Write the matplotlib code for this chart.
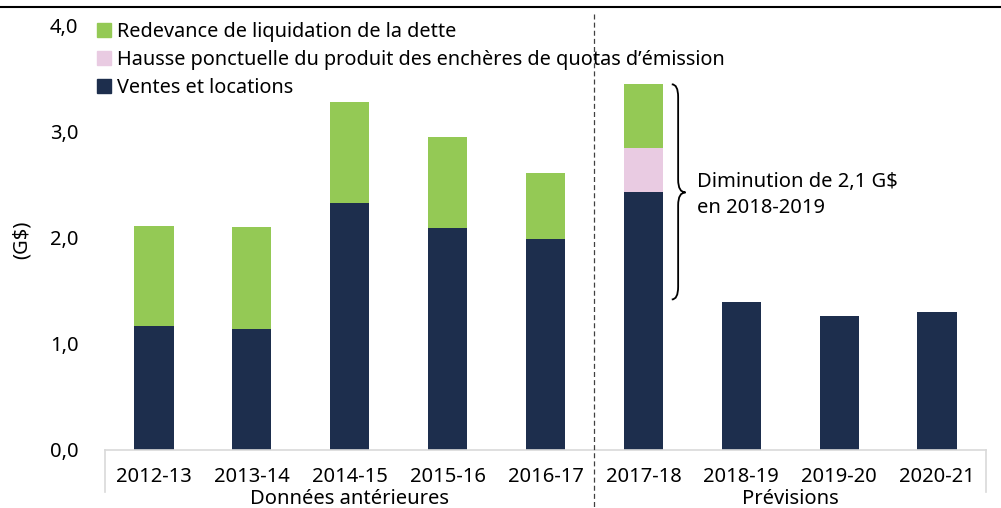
import numpy as np
import matplotlib.pyplot as plt
from matplotlib.path import Path
from matplotlib.patches import PathPatch, Patch
from matplotlib.lines import Line2D

plt.rcParams['font.family'] = ['Noto Sans', 'DejaVu Sans']

# data (G$)
years = ['2012-13', '2013-14', '2014-15', '2015-16', '2016-17',
         '2017-18', '2018-19', '2019-20', '2020-21']
ventes = [1.17, 1.14, 2.33, 2.09, 1.99, 2.43, 1.40, 1.26, 1.30]
hausse = [0.0, 0.0, 0.0, 0.0, 0.0, 0.42, 0.0, 0.0, 0.0]
redevance = [0.94, 0.96, 0.95, 0.86, 0.62, 0.60, 0.0, 0.0, 0.0]
groups = ['Données antérieures', 'Prévisions']
group_bounds = [(-0.5, 4.5), (4.5, 8.5)]
yticks = [0.0, 1.0, 2.0, 3.0, 4.0]

navy = '#1D2E4D'
green = '#94C955'
pink = '#E9CBE2'
grey = '#D9D9D9'
fs = 14.5

fig = plt.figure(figsize=(10.01, 5.08), dpi=100)
ax = fig.add_axes([105 / 1001, 1 - 450 / 508, 881 / 1001, 424 / 508])

x = np.arange(len(years))
w = 0.4
ax.bar(x, ventes, w, color=navy, zorder=2)
ax.bar(x, hausse, w, bottom=ventes, color=pink, zorder=2)
bottom2 = np.array(ventes) + np.array(hausse)
ax.bar(x, redevance, w, bottom=bottom2, color=green, zorder=2)

ax.set_xlim(-0.5, len(years) - 0.5)
ax.set_ylim(0, 4)
ax.set_yticks(yticks)
ax.set_yticklabels([('%.1f' % v).replace('.', ',') for v in yticks])
ax.set_xticks(x)
ax.set_xticklabels(years)
ax.tick_params(axis='both', length=0, labelsize=fs, colors='black')
ax.tick_params(axis='y', pad=19)
ax.tick_params(axis='x', pad=12)
for s in ['top', 'right', 'left']:
    ax.spines[s].set_visible(False)
ax.spines['bottom'].set_color(grey)
ax.spines['bottom'].set_linewidth(1.2)

# group lines and labels under the axis
tr = ax.get_xaxis_transform()
for b in [-0.5, 8.5]:
    ax.plot([b, b], [0, -0.099], transform=tr, color=grey, lw=1.2, clip_on=False)
for g, (a, b) in zip(groups, group_bounds):
    ax.text((a + b) / 2, -0.116, g, transform=tr, ha='center', va='center', fontsize=fs)

# dashed separator between history and forecast
ax.plot([4.5, 4.5], [1.028, -0.137], transform=tr, color='#404040', lw=0.9,
        ls=(0, (4, 2.5)), clip_on=False, zorder=3)

# brace from 2017-18 total down to 2018-19 level
top = bottom2[5] + redevance[5]
bot = ventes[6] + 0.02
mid = ventes[5]
x0, xm, x1 = 5.29, 5.355, 5.43
r = 0.12
verts = [(x0, top), (xm, top), (xm, top - r),
         (xm, mid + r),
         (xm, mid), (x1, mid),
         (xm, mid), (xm, mid - r),
         (xm, bot + r),
         (xm, bot), (x0, bot)]
codes = [Path.MOVETO, Path.CURVE3, Path.CURVE3,
         Path.LINETO,
         Path.CURVE3, Path.CURVE3,
         Path.CURVE3, Path.CURVE3,
         Path.LINETO,
         Path.CURVE3, Path.CURVE3]
ax.add_patch(PathPatch(Path(verts, codes), fill=False, lw=1.3, color='black'))
ax.text(5.547, mid - 0.02, 'Diminution de 2,1 G$\nen 2018-2019', fontsize=fs,
        va='center', ha='left', linespacing=1.4)

fig.text(22 / 1001, 1 - 240 / 508, '(G$)', rotation=90, ha='center', va='center', fontsize=fs)

# legend
handles = [Patch(color=green), Patch(color=pink), Patch(color=navy)]
labels = ['Redevance de liquidation de la dette',
          "Hausse ponctuelle du produit des enchères de quotas d’émission",
          'Ventes et locations']
ax.legend(handles, labels, loc='upper left', bbox_to_anchor=(97 / 1001, 1 - 22 / 508),
          bbox_transform=fig.transFigure, frameon=False, fontsize=14.3,
          handlelength=0.72, handleheight=0.67, handletextpad=0.3,
          labelspacing=0.4, borderpad=0, borderaxespad=0)

# rule at the top
fig.add_artist(Line2D([0, 1], [1 - 7 / 508, 1 - 7 / 508], transform=fig.transFigure,
                      color='black', lw=1.5))

fig.savefig('out.png', dpi=100)
